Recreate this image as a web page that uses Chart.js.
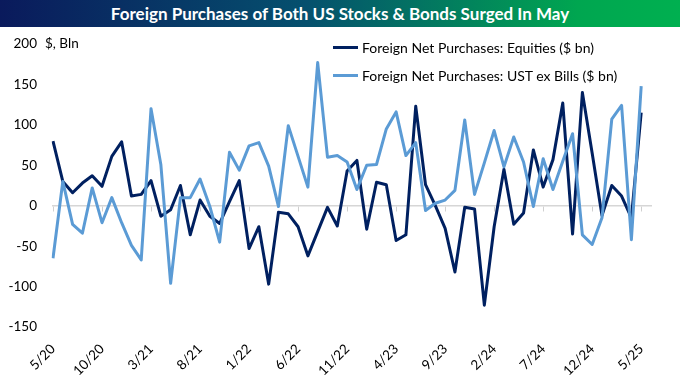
<!DOCTYPE html>
<html>
<head>
<meta charset="utf-8">
<script src="https://cdn.jsdelivr.net/npm/chart.js@4.4.1/dist/chart.umd.min.js"></script>
<style>
  html, body { margin: 0; padding: 0; background: #fff; }
  #wrap { position: relative; width: 680px; height: 383px; overflow: hidden; font-family: Lato, "Open Sans", sans-serif; }
  #c { position: absolute; left: 0; top: 0; }
  #title { position: absolute; left: 0; top: 0; width: 680px; height: 27px;
           background: linear-gradient(to right, #0a1a5c 0%, #05506e 45%, #00a650 85%, #00b050 100%);
           color: #fff; font-weight: bold; font-size: 17px; line-height: 27px; text-align: center; }
  #unit { position: absolute; left: 45px; top: 35px; font-size: 13.5px; color: #000; }
  #legend { position: absolute; left: 333px; top: 33px; font-size: 14px; color: #000; }
  .li { display: flex; align-items: center; height: 28px; }
  .sw { width: 25px; height: 3px; margin-right: 4px; }
</style>
</head>
<body>
<div id="wrap">
  <canvas id="c" width="680" height="383"></canvas>
  <div id="title">Foreign Purchases of Both US Stocks &amp; Bonds Surged In May</div>
  <div id="unit">$, Bln</div>
  <div id="legend"></div>
</div>
<script>
const months = [
  "5/20","6/20","7/20","8/20","9/20","10/20","11/20","12/20",
  "1/21","2/21","3/21","4/21","5/21","6/21","7/21","8/21","9/21","10/21","11/21","12/21",
  "1/22","2/22","3/22","4/22","5/22","6/22","7/22","8/22","9/22","10/22","11/22","12/22",
  "1/23","2/23","3/23","4/23","5/23","6/23","7/23","8/23","9/23","10/23","11/23","12/23",
  "1/24","2/24","3/24","4/24","5/24","6/24","7/24","8/24","9/24","10/24","11/24","12/24",
  "1/25","2/25","3/25","4/25","5/25"
];
// trailing empty category: the axis runs a little past the last month
const categories = months.concat([""]);

const equities = [
  80, 30, 16, 28, 37, 24, 61, 79, 12, 14,
  31, -13, -5, 25, -36, 7, -13, -22, 5, 31,
  -53, -26, -97, -8, -10, -26, -62, -32, -2, -25,
  43, 56, -29, 29, 26, -43, -36, 123, 26, 0,
  -28, -82, -2, -4, -123, -26, 45, -23, -9, 69,
  23, 57, 127, -35, 140, 65, -12, 25, 12, -15,
  115
];
const ustExBills = [
  -65, 30, -23, -34, 22, -21, 10, -21, -49, -67,
  120, 51, -96, 10, 10, 33, -1, -45, 66, 44,
  74, 78, 49, -1, 99, 61, 23, 177, 60, 62,
  54, 20, 50, 51, 95, 116, 62, 78, -6, 3,
  7, 19, 106, 14, 53, 93, 48, 85, 54, -1,
  58, 20, 55, 89, -36, -48, -15, 107, 124, -42,
  148
];
const seriesNames = ["Foreign Net Purchases: Equities ($ bn)", "Foreign Net Purchases: UST ex Bills ($ bn)"];
const seriesColors = ["#002060", "#5b9bd5"];
const yTicks = [-150, -100, -50, 0, 50, 100, 150, 200];
const labelEvery = 5;

const font = { family: "Lato, 'Open Sans', sans-serif", size: 13.5 };
const showTick = (i) => i % labelEvery === 0 && i < months.length;

const chart = new Chart(document.getElementById('c'), {
  type: 'line',
  data: {
    labels: categories,
    datasets: [
      { label: seriesNames[0], data: equities, borderColor: seriesColors[0], backgroundColor: seriesColors[0],
        borderWidth: 3, pointRadius: 0, tension: 0, borderJoinStyle: 'round', order: 1 },
      { label: seriesNames[1], data: ustExBills, borderColor: seriesColors[1], backgroundColor: seriesColors[1],
        borderWidth: 3, pointRadius: 0, tension: 0, borderJoinStyle: 'round', order: 0 }
    ]
  },
  options: {
    responsive: false,
    animation: false,
    devicePixelRatio: 1,
    layout: { padding: { top: 44, right: 29, left: 0, bottom: 0 } },
    plugins: { legend: { display: false }, tooltip: { enabled: false }, title: { display: false } },
    scales: {
      x: {
        type: 'category',
        offset: false,
        grid: { display: false },
        border: { display: false },
        ticks: {
          autoSkip: false, maxRotation: 45, minRotation: 45, padding: 6,
          color: '#000', font: font,
          callback: function (v, i) { return showTick(i) ? this.getLabelForValue(v) : ''; }
        },
        afterFit: (s) => { s.height = 56; }
      },
      x2: {
        type: 'category',
        offset: false,
        position: { y: 0 },
        grid: {
          display: true, drawOnChartArea: false, drawTicks: true, tickLength: 5, lineWidth: 1,
          color: (ctx) => showTick(ctx.index) ? '#d0d0d0' : 'rgba(0,0,0,0)'
        },
        border: { display: true, color: '#d6d6d6', width: 1.5 },
        ticks: { display: false, autoSkip: false }
      },
      y: {
        min: yTicks[0], max: yTicks[yTicks.length - 1],
        afterBuildTicks: (s) => { s.ticks = yTicks.map(v => ({ value: v })); },
        grid: { display: false, drawTicks: false },
        border: { display: false },
        ticks: { padding: 16, color: '#000', font: font },
        afterFit: (s) => { s.width = 53; }
      }
    }
  }
});

// legend built from the chart's datasets
const lg = document.getElementById('legend');
chart.data.datasets.forEach(ds => {
  const row = document.createElement('div');
  row.className = 'li';
  const sw = document.createElement('span');
  sw.className = 'sw';
  sw.style.background = ds.borderColor;
  const tx = document.createElement('span');
  tx.textContent = ds.label;
  row.appendChild(sw); row.appendChild(tx);
  lg.appendChild(row);
});
</script>
</body>
</html>
